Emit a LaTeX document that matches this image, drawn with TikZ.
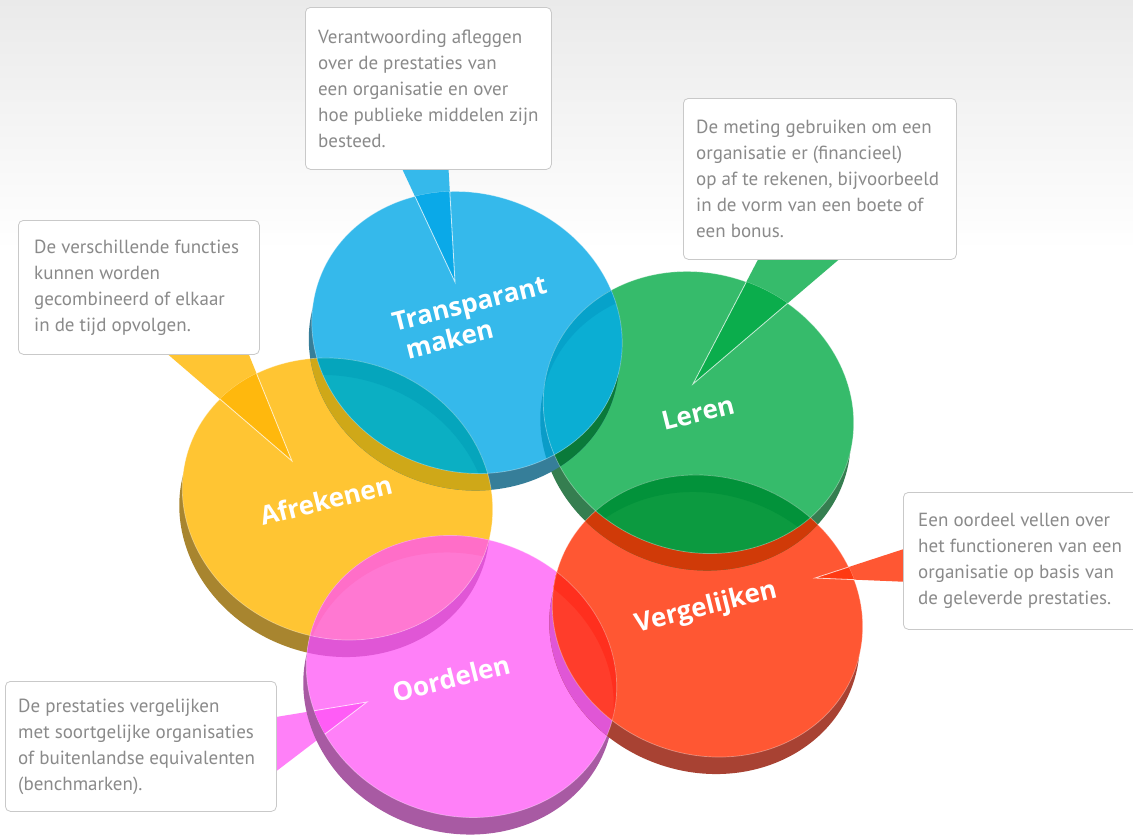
\documentclass[tikz,border=0pt]{standalone}
\usepackage{fontspec}
\setmainfont{PT Sans}
\newfontfamily\labelfont{Open Sans}

% top faces and side bands
\definecolor{blueT}{HTML}{35B9EB}\definecolor{blueS}{HTML}{367E99}
\definecolor{greenT}{HTML}{36BB6B}\definecolor{greenS}{HTML}{357E50}
\definecolor{yellowT}{HTML}{FFC533}\definecolor{yellowS}{HTML}{A8852F}
\definecolor{redT}{HTML}{FF5733}\definecolor{redS}{HTML}{A84233}
\definecolor{pinkT}{HTML}{FF80F8}\definecolor{pinkS}{HTML}{A85AA3}
% a side band lying over another top face
\definecolor{darkB}{HTML}{0A9CC8}\definecolor{darkG}{HTML}{0A7A3A}
\definecolor{darkY}{HTML}{CFA818}\definecolor{darkR}{HTML}{D03A08}
\definecolor{darkP}{HTML}{E056D6}
% lenses where two top faces meet, and their rims
\definecolor{lensBY}{HTML}{0BAFC3}\definecolor{ringBY}{HTML}{05A5BC}
\definecolor{lensBG}{HTML}{0BAED3}\definecolor{ringBG}{HTML}{06A2CA}
\definecolor{lensGR}{HTML}{0C9A40}\definecolor{ringGR}{HTML}{02923A}
\definecolor{lensRP}{HTML}{FF3D2B}\definecolor{ringRP}{HTML}{FF2F1E}
\definecolor{lensPY}{HTML}{FF78D2}\definecolor{ringPY}{HTML}{FF6EC8}
% pointer tips inside the discs
\definecolor{blueP}{HTML}{0AA9E8}\definecolor{greenP}{HTML}{0BAD4C}
\definecolor{yellowP}{HTML}{FFB80D}\definecolor{redP}{HTML}{FF3A12}
\definecolor{pinkP}{HTML}{FF5CF6}
\definecolor{bgtop}{HTML}{EAEAEA}
\definecolor{boxline}{HTML}{C9C9C9}
\definecolor{boxtext}{HTML}{8A8A8A}

% disc centres (top face)
\def\cxblue{467}\def\cyblue{332.5}
\def\cxgreen{698.5}\def\cygreen{412.5}
\def\cxyellow{337.5}\def\cyyellow{499}
\def\cxred{707.5}\def\cyred{616}
\def\cxpink{461.5}\def\cypink{676.5}

% tilted ellipse of a top face, and the same ellipse moved down to the bottom face
\newcommand\ellT[1]{\pgfpathellipse
  {\pgfpointxy{\csname cx#1\endcsname}{\csname cy#1\endcsname}}
  {\pgfpoint{148.44pt}{-51.11pt}}{\pgfpoint{45.25pt}{131.42pt}}}
\newcommand\ellB[1]{\pgfpathellipse
  {\pgfpointadd{\pgfpointxy{\csname cx#1\endcsname}{\csname cy#1\endcsname}}{\pgfpointxy{-3}{17}}}
  {\pgfpoint{148.44pt}{-51.11pt}}{\pgfpoint{45.25pt}{131.42pt}}}
\newcommand\flood[1]{\pgfsetfillcolor{#1}%
  \pgfpathrectangle{\pgfpoint{0pt}{0pt}}{\pgfpoint{1133pt}{-835pt}}\pgfusepath{fill}}
\newcommand\cliptop[1]{\ellT{#1}\pgfusepath{clip}}
\newcommand\clipside[1]{\pgfseteorule\ellT{#1}\ellB{#1}\pgfusepath{clip}\pgfsetnonzerorule}
\newcommand\disc[3]{% name, top colour, side colour
  \begin{pgfscope}\pgfsetfillcolor{#3}\ellB{#1}\pgfusepath{fill}\end{pgfscope}
  \begin{pgfscope}\pgfsetfillcolor{#2}\ellT{#1}\pgfusepath{fill}\end{pgfscope}}
% #1 upper disc, #2 lower disc, #3 disc whose rim shows in the lens,
% #4 side of #1 on #2, #5 side of #2 on #1, #6 lens, #7 rim
\newcommand\overlap[7]{%
  \begin{pgfscope}\cliptop{#2}\clipside{#1}\flood{#4}\end{pgfscope}
  \begin{pgfscope}\cliptop{#1}\clipside{#2}\flood{#5}\end{pgfscope}
  \begin{pgfscope}\cliptop{#1}\cliptop{#2}\flood{#6}%
    \pgfseteorule\pgfsetfillcolor{#7}\ellT{#3}\ellB{#3}\pgfusepath{fill}\end{pgfscope}}
\newcommand\rim[1]{\begin{pgfscope}\pgfsetstrokecolor{white}\pgfsetstrokeopacity{0.35}%
  \pgfsetlinewidth{0.7pt}\ellT{#1}\pgfusepath{stroke}\end{pgfscope}}

\begin{document}
\begin{tikzpicture}[x=1pt,y=-1pt,
  callout/.style={draw=boxline, fill=white, rounded corners=5pt, line width=0.8pt,
    inner sep=0pt, anchor=north west},
  callouttext/.style={anchor=west, align=left, inner sep=0pt, text=boxtext,
    font=\fontsize{19}{26}\selectfont},
  disclabel/.style={text=white, rotate=14, inner sep=0pt,
    font=\labelfont\bfseries\fontsize{26}{30}\selectfont},
  tipedge/.style={white, opacity=0.75, line width=0.8pt}]

\useasboundingbox (0,0) rectangle (1133,835);
\clip (0,0) rectangle (1133,835);
\fill[white] (0,0) rectangle (1133,835);
\shade[top color=bgtop, bottom color=white] (0,0) rectangle (1133,250);

% pointer tips and bases
\coordinate (tipT) at (455,282);  \coordinate (tT1) at (398,160); \coordinate (tT2) at (448,160);
\coordinate (tipL) at (693,384);  \coordinate (tL1) at (763,250); \coordinate (tL2) at (850,250);
\coordinate (tipA) at (292,461);  \coordinate (tA1) at (157,345); \coordinate (tA2) at (245,345);
\coordinate (tipV) at (815,578);  \coordinate (tV1) at (910,547); \coordinate (tV2) at (910,582);
\coordinate (tipO) at (367,702);  \coordinate (tO1) at (270,718); \coordinate (tO2) at (270,776);

\fill[blueT] (tT1) -- (tipT) -- (tT2) -- cycle;
\fill[greenT] (tL1) -- (tipL) -- (tL2) -- cycle;
\fill[yellowT] (tA1) -- (tipA) -- (tA2) -- cycle;
\fill[redT] (tV1) -- (tipV) -- (tV2) -- cycle;
\fill[pinkT] (tO1) -- (tipO) -- (tO2) -- cycle;

% the five discs, back to front
\disc{yellow}{yellowT}{yellowS}
\disc{pink}{pinkT}{pinkS}
\disc{red}{redT}{redS}
\disc{green}{greenT}{greenS}
\disc{blue}{blueT}{blueS}

% where the discs overlap
\overlap{blue}{yellow}{yellow}{darkY}{darkB}{lensBY}{ringBY}
\overlap{blue}{green}{green}{darkG}{darkB}{lensBG}{ringBG}
\overlap{green}{red}{red}{darkR}{darkG}{lensGR}{ringGR}
\overlap{red}{pink}{pink}{darkP}{darkR}{lensRP}{ringRP}
\overlap{pink}{yellow}{pink}{darkY}{darkP}{lensPY}{ringPY}

\rim{yellow}\rim{pink}\rim{red}\rim{green}\rim{blue}

% pointer tips where they lie on their disc
\begin{pgfscope}\cliptop{blue}
  \fill[blueP] (tT1) -- (tipT) -- (tT2) -- cycle;
  \draw[tipedge] (tT1) -- (tipT) -- (tT2);
\end{pgfscope}
\begin{pgfscope}\cliptop{green}
  \fill[greenP] (tL1) -- (tipL) -- (tL2) -- cycle;
  \draw[tipedge] (tL1) -- (tipL) -- (tL2);
\end{pgfscope}
\begin{pgfscope}\cliptop{yellow}
  \fill[yellowP] (tA1) -- (tipA) -- (tA2) -- cycle;
  \draw[tipedge] (tA1) -- (tipA) -- (tA2);
\end{pgfscope}
\begin{pgfscope}\cliptop{red}
  \fill[redP] (tV1) -- (tipV) -- (tV2) -- cycle;
  \draw[tipedge] (tV1) -- (tipV) -- (tV2);
\end{pgfscope}
\begin{pgfscope}\cliptop{pink}
  \fill[pinkP] (tO1) -- (tipO) -- (tO2) -- cycle;
  \draw[tipedge] (tO1) -- (tipO) -- (tO2);
\end{pgfscope}

% disc labels
\node[disclabel, align=center] (lblT) at (473,318) {Transparant\\maken\hspace*{56pt}};
\node[disclabel] (lblL) at (698,413) {Leren};
\node[disclabel] (lblA) at (326,500) {Afrekenen};
\node[disclabel] (lblV) at (706,608) {Vergelijken};
\node[disclabel] (lblO) at (451,678) {Oordelen};

% callouts
\node[callout, minimum width=246pt, minimum height=162pt] (boxT) at (305,7) {};
\node[callouttext, xshift=13pt] (txtT) at (boxT.west)
  {Verantwoording afleggen\\over de prestaties van\\een organisatie en over\\hoe publieke middelen zijn\\besteed.};
\node[callout, minimum width=273pt, minimum height=161pt] (boxL) at (683,98) {};
\node[callouttext, xshift=13pt] (txtL) at (boxL.west)
  {De meting gebruiken om een\\organisatie er (financieel)\\op af te rekenen, bijvoorbeeld\\in de vorm van een boete of\\een bonus.};
\node[callout, minimum width=241pt, minimum height=134pt] (boxA) at (18,220) {};
\node[callouttext, xshift=16pt] (txtA) at (boxA.west)
  {De verschillende functies\\kunnen worden\\gecombineerd of elkaar\\in de tijd opvolgen.};
\node[callout, minimum width=245pt, minimum height=137pt] (boxV) at (903,492) {};
\node[callouttext, xshift=15pt] (txtV) at (boxV.west)
  {Een oordeel vellen over\\het functioneren van een\\organisatie op basis van\\de geleverde prestaties.};
\node[callout, minimum width=271pt, minimum height=130pt] (boxO) at (5,681) {};
\node[callouttext, xshift=13pt] (txtO) at (boxO.west)
  {De prestaties vergelijken\\met soortgelijke organisaties\\of buitenlandse equivalenten\\(benchmarken).};
\end{tikzpicture}
\end{document}
